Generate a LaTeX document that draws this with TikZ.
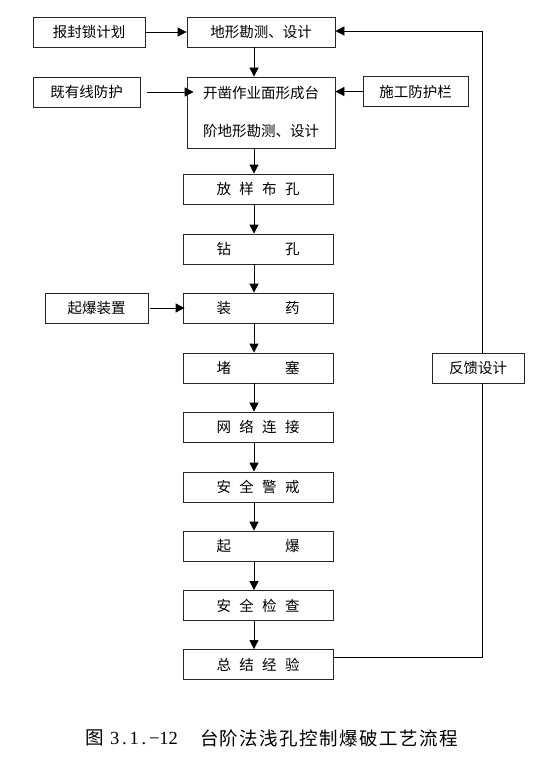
\documentclass[tikz,border=0pt]{standalone}
\usepackage{fontspec}
\setmainfont{Noto Sans CJK SC}
\newfontfamily\latinserif{Liberation Serif}
\usetikzlibrary{arrows.meta}
\newcommand\spr[2]{\makebox[#1][s]{#2}}
\begin{document}
\begin{tikzpicture}[x=1pt,y=-1pt,
  box/.style={draw=black!85, line width=0.8pt, fill=white, minimum height=30pt,
              inner sep=0pt, font=\fontsize{14.5}{16}\selectfont},
  arr/.style={-{Triangle[length=9pt,width=9pt]}, line width=0.8pt},
  ln/.style={line width=0.8pt},
  captext/.style={inner sep=0pt, font=\fontsize{18.5}{18.5}\selectfont}]
\useasboundingbox (0,0) rectangle (554,776);
\fill[white] (0,0) rectangle (554,776);

\coordinate (ax) at (254,0);
\coordinate (fx) at (482,0);

% side boxes
\node[box, minimum width=112pt] (p1) at (89,32) {报封锁计划};
\node[box, minimum width=107pt] (a2) at (86.5,92) {既有线防护};
\node[box, minimum width=105pt] (c2) at (415.5,91.5) {施工防护栏};
\node[box, minimum width=103pt] (s)  at (96.5,308) {起爆装置};
\node[box, minimum width=92pt]  (fb) at (478,368) {反馈设计};

% main column
\node[box, minimum width=148pt] (m1) at (261,32) {地形勘测、设计};
\node[box, minimum width=148pt, minimum height=71pt, align=center,
      font=\fontsize{14.5}{38}\selectfont] (m2) at (261,112.5) {开凿作业面形成台\\阶地形勘测、设计};
\node[box, minimum width=150pt] (m3)  at (258,189)   {\spr{83pt}{放\hfill 样\hfill 布\hfill 孔}};
\node[box, minimum width=150pt] (m4)  at (258,249)   {\spr{83pt}{钻\hfill 孔}};
\node[box, minimum width=150pt] (m5)  at (258,308)   {\spr{83pt}{装\hfill 药}};
\node[box, minimum width=150pt] (m6)  at (258,368)   {\spr{83pt}{堵\hfill 塞}};
\node[box, minimum width=150pt] (m7)  at (258,427)   {\spr{83pt}{网\hfill 络\hfill 连\hfill 接}};
\node[box, minimum width=150pt] (m8)  at (258,487)   {\spr{83pt}{安\hfill 全\hfill 警\hfill 戒}};
\node[box, minimum width=150pt] (m9)  at (258,546)   {\spr{83pt}{起\hfill 爆}};
\node[box, minimum width=150pt] (m10) at (258,605.5) {\spr{83pt}{安\hfill 全\hfill 检\hfill 查}};
\node[box, minimum width=150pt] (m11) at (258,664.5) {\spr{83pt}{总\hfill 结\hfill 经\hfill 验}};

% main arrows
\draw[arr] (m1.south -| ax) -- (m2.north -| ax);
\draw[arr] (m2.south -| ax) -- (m3.north -| ax);
\draw[arr] (m3.south -| ax) -- (m4.north -| ax);
\draw[arr] (m4.south -| ax) -- (m5.north -| ax);
\draw[arr] (m5.south -| ax) -- (m6.north -| ax);
\draw[arr] (m6.south -| ax) -- (m7.north -| ax);
\draw[arr] (m7.south -| ax) -- (m8.north -| ax);
\draw[arr] (m8.south -| ax) -- (m9.north -| ax);
\draw[arr] (m9.south -| ax) -- (m10.north -| ax);
\draw[arr] (m10.south -| ax) -- (m11.north -| ax);

% side arrows
\draw[arr] (p1.east) -- (m1.west);
\draw[arr] ([xshift=7pt]a2.east) -- ([xshift=7pt]a2.east -| m2.west);
\draw[arr] (c2.west) -- (c2.west -| m2.east);
\draw[arr] ([xshift=2pt]s.east) -- ([xshift=2pt]s.east -| m5.west);

% feedback loop
\draw[ln] ([yshift=7.5pt]m11.east) -| (fb.south -| fx);
\draw[arr] (fb.north -| fx) |- ([yshift=1pt]m1.east);

% caption
\node[captext] (c1) at (95,738) {图};
\node[captext, font=\latinserif\fontsize{18.5}{18.5}\selectfont] (c2n) at (144,738)
  {\spr{68pt}{3\hfill .\hfill 1\hfill .\hfill −12}};
\node[captext] (c3) at (329,738)
  {\spr{258pt}{台\hfill 阶\hfill 法\hfill 浅\hfill 孔\hfill 控\hfill 制\hfill 爆\hfill 破\hfill 工\hfill 艺\hfill 流\hfill 程}};
\end{tikzpicture}
\end{document}
